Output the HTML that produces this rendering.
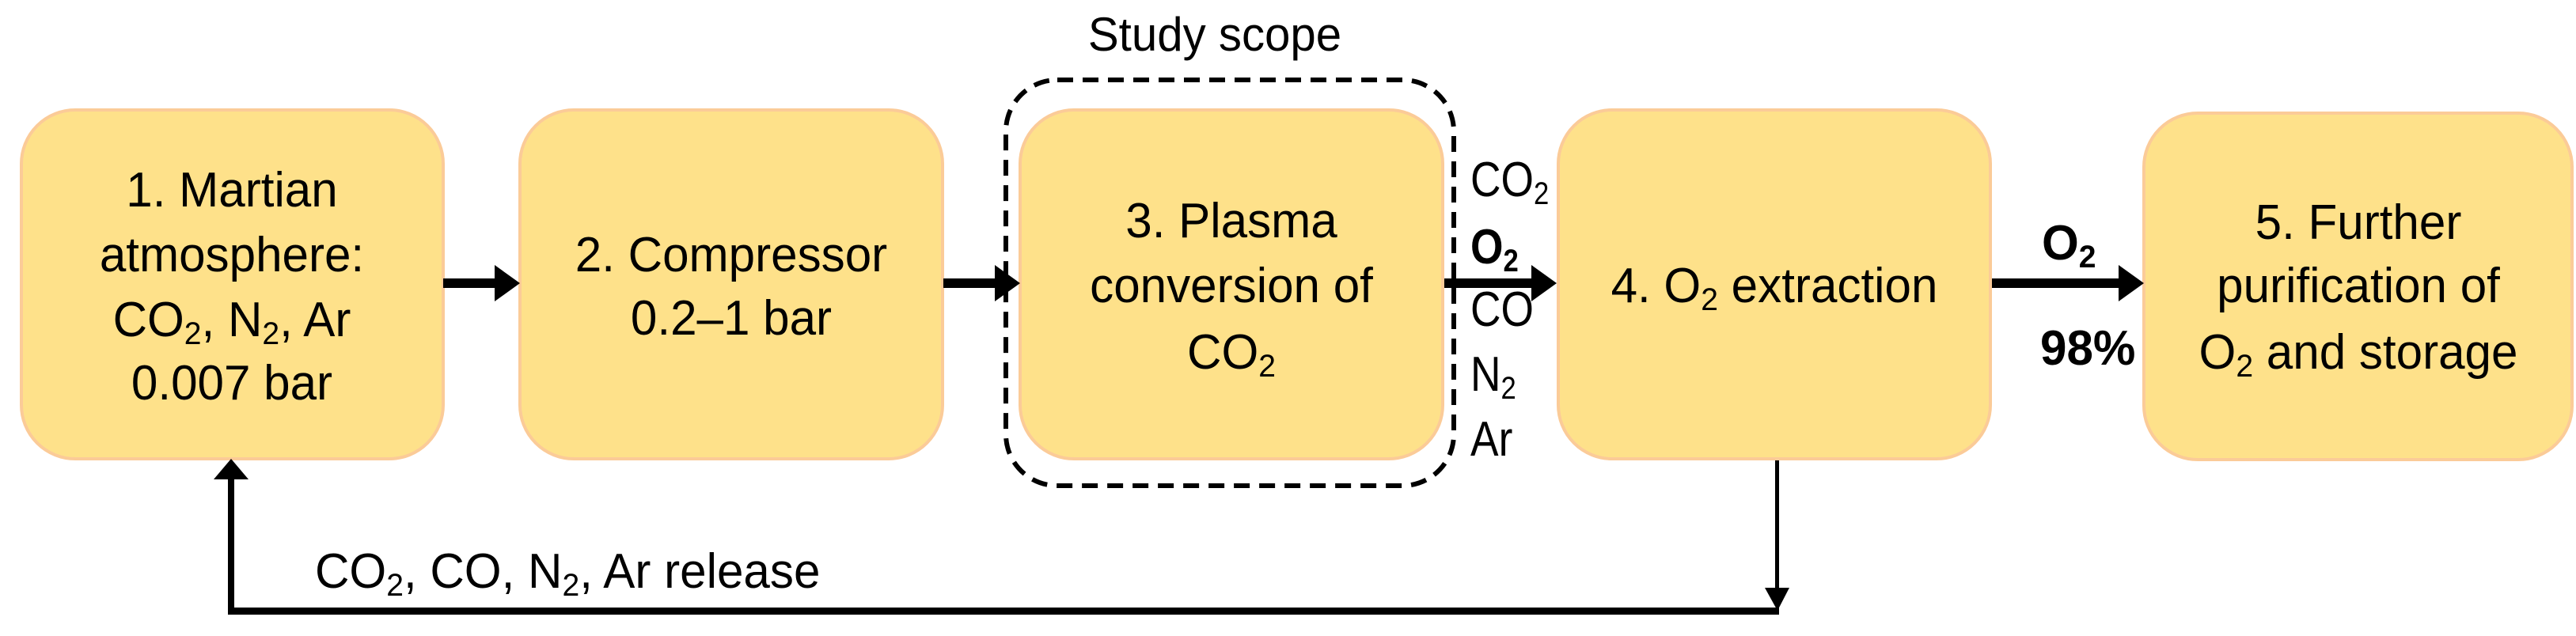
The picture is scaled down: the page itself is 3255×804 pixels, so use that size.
<!DOCTYPE html>
<html><head><meta charset="utf-8"><style>
html,body{margin:0;padding:0;background:#fff;}
body{width:3255px;height:804px;position:relative;overflow:hidden;font-family:"Liberation Sans",sans-serif;color:#000;}
.box{position:absolute;background:#fee18a;border:4px solid #fbcb98;border-radius:70px;box-sizing:border-box;}
.t{position:absolute;font-size:62px;line-height:1;white-space:nowrap;transform:translate(-50%,-50%) scaleX(0.97);}
.l{position:absolute;font-size:62px;line-height:1;white-space:nowrap;transform:translateY(-50%) scaleX(0.97);transform-origin:left center;}
.s{transform:translateY(-50%) scaleX(0.86);}
sub{font-size:0.65em;vertical-align:-0.25em;line-height:0;}
</style></head><body>
<div class="box" style="left:25px;top:137px;width:537px;height:445px"></div>
<div class="box" style="left:655px;top:137px;width:538px;height:445px"></div>
<div class="box" style="left:1287px;top:137px;width:538px;height:445px"></div>
<div class="box" style="left:1967px;top:137px;width:550px;height:445px"></div>
<div class="box" style="left:2707px;top:141px;width:545px;height:442px"></div>

<svg style="position:absolute;left:0;top:0" width="3255" height="804">
<rect x="1271" y="101" width="566" height="513" rx="65" fill="none" stroke="#000" stroke-width="6" stroke-dasharray="20,12"/>
<g fill="#000">
<rect x="560" y="352" width="70" height="12"/><polygon points="625,335 657,358 625,381"/>
<rect x="1192" y="352" width="70" height="12"/><polygon points="1257,335 1289,358 1257,381"/>
<rect x="1825" y="352" width="115" height="12"/><polygon points="1935,335 1967,358 1935,381"/>
<rect x="2517" y="352" width="165" height="12"/><polygon points="2677,335 2709,358 2677,381"/>
<rect x="288" y="605" width="8" height="172"/><polygon points="270,606 292,580 314,606"/>
<rect x="288" y="768" width="1960" height="9"/>
<rect x="2243" y="582" width="5" height="165"/><polygon points="2230,743 2261,743 2246,772"/>
</g>
</svg>

<div class="t" style="left:293px;top:241px">1. Martian</div>
<div class="t" style="left:293px;top:323px">atmosphere:</div>
<div class="t" style="left:293px;top:405px">CO<sub>2</sub>, N<sub>2</sub>, Ar</div>
<div class="t" style="left:293px;top:485px">0.007 bar</div>
<div class="t" style="left:924px;top:323px">2. Compressor</div>
<div class="t" style="left:924px;top:403px">0.2–1 bar</div>
<div class="t" style="left:1556px;top:280px">3. Plasma</div>
<div class="t" style="left:1556px;top:362px">conversion of</div>
<div class="t" style="left:1556px;top:446px">CO<sub>2</sub></div>
<div class="t" style="left:2242px;top:362px">4. O<sub>2</sub> extraction</div>
<div class="t" style="left:2980px;top:282px">5. Further</div>
<div class="t" style="left:2980px;top:362px">purification of</div>
<div class="t" style="left:2980px;top:446px">O<sub>2</sub> and storage</div>
<div class="t" style="left:1535px;top:44px;font-size:60px">Study scope</div>

<div class="l s" style="left:1858px;top:228px">CO<sub>2</sub></div>
<div class="l s" style="left:1858px;top:313px;font-weight:bold">O<sub>2</sub></div>
<div class="l s" style="left:1858px;top:392px">CO</div>
<div class="l s" style="left:1858px;top:474px">N<sub>2</sub></div>
<div class="l s" style="left:1858px;top:556px">Ar</div>
<div class="l" style="left:2580px;top:308px;font-weight:bold">O<sub>2</sub></div>
<div class="l" style="left:2578px;top:441px;font-weight:bold">98%</div>
<div class="l" style="left:398px;top:723px">CO<sub>2</sub>, CO, N<sub>2</sub>, Ar release</div>
</body></html>
